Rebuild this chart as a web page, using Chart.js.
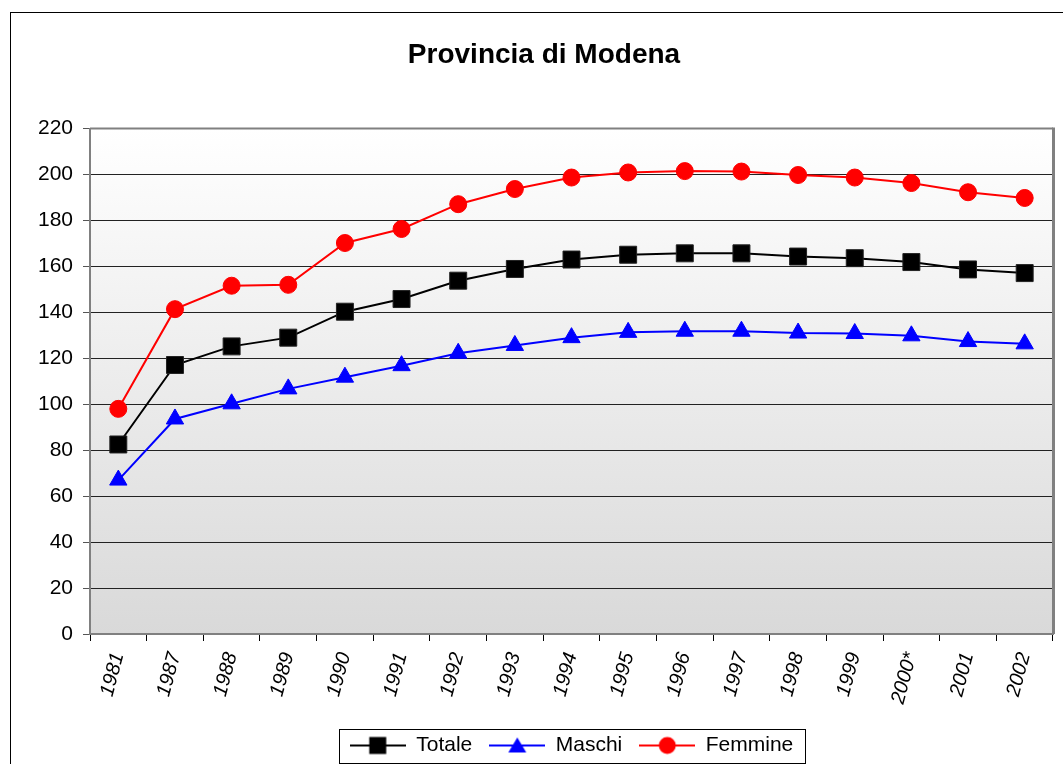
<!DOCTYPE html>
<html>
<head>
<meta charset="utf-8">
<script src="https://cdn.jsdelivr.net/npm/chart.js@4.4.0/dist/chart.umd.min.js"></script>
<style>
  html, body { margin: 0; padding: 0; background: #fff; overflow: hidden; }
  #grafico { display: block; }
</style>
</head>
<body>
<canvas id="grafico" width="1088" height="764"></canvas>
<script>
const anni = ['1981', '1987', '1988', '1989', '1990', '1991', '1992', '1993', '1994',
              '1995', '1996', '1997', '1998', '1999', '2000*', '2001', '2002'];
const totale  = [82.5, 117.1, 125.2, 129.0, 140.3, 145.8, 153.8, 158.9, 163.0,
                 165.1, 165.7, 165.7, 164.3, 163.6, 161.9, 158.7, 157.1];
const maschi  = [67.0, 93.6, 100.2, 106.7, 111.8, 116.8, 122.2, 125.6, 129.0,
                 131.3, 131.8, 131.8, 131.0, 130.8, 129.8, 127.3, 126.3];
const femmine = [98.0, 141.4, 151.6, 152.0, 170.2, 176.3, 187.1, 193.7, 198.7,
                 200.9, 201.5, 201.3, 199.8, 198.7, 196.3, 192.3, 189.8];
const yMin = 0, yMax = 220, yPasso = 20;

const FONT = "'Liberation Sans', Arial, sans-serif";

// campione della legenda: linea con marcatore al centro
function campione(colore, stile) {
    const c = document.createElement('canvas');
    c.width = 56; c.height = 20;
    const g = c.getContext('2d');
    g.strokeStyle = colore; g.lineWidth = 2;
    g.beginPath(); g.moveTo(0, 10); g.lineTo(56, 10); g.stroke();
    g.fillStyle = colore;
    g.beginPath();
    if (stile === 'rect') {
        g.rect(28 - 8.5, 10 - 8.5, 17, 17);
    } else if (stile === 'triangle') {
        g.moveTo(28, 2); g.lineTo(37, 17); g.lineTo(19, 17); g.closePath();
    } else {
        g.arc(28, 10, 8.5, 0, Math.PI * 2);
    }
    g.fill();
    return c;
}
const campioni = [campione('#000000', 'rect'), campione('#0000ff', 'triangle'), campione('#ff0000', 'circle')];

const sfondo = {
    id: 'sfondo',
    beforeDraw(chart) {
        const ctx = chart.ctx, a = chart.chartArea;
        ctx.save();
        ctx.fillStyle = '#ffffff';
        ctx.fillRect(0, 0, chart.width, chart.height);
        // cornice esterna
        ctx.strokeStyle = '#000000';
        ctx.lineWidth = 1;
        ctx.strokeRect(10.5, 12.5, 1067, 800);
        // area del grafico sfumata
        const grad = ctx.createLinearGradient(0, a.top, 0, a.bottom);
        grad.addColorStop(0, '#ffffff');
        grad.addColorStop(1, '#d9d9d9');
        ctx.fillStyle = grad;
        ctx.fillRect(a.left, a.top, a.right - a.left, a.bottom - a.top);
        ctx.restore();
    },
    beforeDatasetsDraw(chart) {
        const ctx = chart.ctx, a = chart.chartArea;
        ctx.save();
        ctx.strokeStyle = '#808080';
        ctx.lineWidth = 2;
        ctx.beginPath();
        ctx.moveTo(a.left, a.top);
        ctx.lineTo(a.right, a.top);
        ctx.stroke();
        ctx.lineWidth = 3;
        ctx.beginPath();
        ctx.moveTo(a.right + 0.5, a.top - 1);
        ctx.lineTo(a.right + 0.5, a.bottom);
        ctx.stroke();
        ctx.restore();
    },
    afterDraw(chart) {
        const hb = chart.legend.legendHitBoxes;
        if (!hb || !hb.length) return;
        const ctx = chart.ctx;
        const ultimo = hb[hb.length - 1];
        const sx = hb[0].left - 11, dx = ultimo.left + ultimo.width + 11;
        const cy = hb[0].top + hb[0].height / 2;
        ctx.save();
        ctx.strokeStyle = '#000000';
        ctx.lineWidth = 1;
        ctx.strokeRect(Math.round(sx) + 0.5, Math.round(cy - 17) + 0.5, Math.round(dx - sx), 34);
        ctx.restore();
    }
};

new Chart(document.getElementById('grafico'), {
    type: 'line',
    data: {
        labels: anni,
        datasets: [
            {
                label: 'Totale', data: totale,
                borderColor: '#000000', backgroundColor: '#000000', borderWidth: 2,
                pointStyle: 'rect', pointRadius: 12, pointBorderColor: '#222222', pointBorderWidth: 1
            },
            {
                label: 'Maschi', data: maschi,
                borderColor: '#0000ff', backgroundColor: '#0000ff', borderWidth: 2,
                pointStyle: 'triangle', pointRadius: 10, pointBorderWidth: 1
            },
            {
                label: 'Femmine', data: femmine,
                borderColor: '#ff0000', backgroundColor: '#ff0000', borderWidth: 2,
                pointStyle: 'circle', pointRadius: 8.5, pointBorderWidth: 1
            }
        ]
    },
    options: {
        responsive: false,
        animation: false,
        layout: { padding: { left: 0, right: 0, top: 0, bottom: -2 } },
        plugins: {
            title: {
                display: true,
                text: 'Provincia di Modena',
                color: '#000000',
                font: { family: FONT, size: 28, weight: 'bold' },
                padding: { top: 38, bottom: 57 }
            },
            legend: {
                position: 'bottom',
                fullSize: false,
                labels: {
                    color: '#000000',
                    font: { family: FONT, size: 21 },
                    usePointStyle: true,
                    pointStyleWidth: 56,
                    padding: 17,
                    generateLabels(chart) {
                        const items = Chart.defaults.plugins.legend.labels.generateLabels(chart);
                        items.forEach((it, i) => { it.pointStyle = campioni[i]; });
                        return items;
                    }
                }
            },
            tooltip: { enabled: false }
        },
        scales: {
            x: {
                offset: true,
                afterFit(s) { s.height = 84; },
                border: { color: '#808080', width: 2 },
                grid: { drawOnChartArea: false, drawTicks: true, tickLength: 7, offset: true, tickColor: '#000000' },
                ticks: {
                    color: '#000000',
                    font: { family: FONT, size: 20, style: 'italic' },
                    minRotation: 75, maxRotation: 75,
                    autoSkip: false,
                    padding: 9
                }
            },
            y: {
                min: yMin, max: yMax,
                afterFit(s) { s.width = 90; },
                border: { color: '#808080', width: 2 },
                grid: { color: '#222222', lineWidth: 1, tickLength: 7, tickColor: '#555555' },
                ticks: {
                    stepSize: yPasso,
                    color: '#000000',
                    font: { family: FONT, size: 21 },
                    padding: 10
                }
            },
            // spazio a destra dell'area del grafico
            margine: {
                type: 'linear',
                position: 'right',
                afterFit(s) { s.width = 35; },
                grid: { display: false },
                border: { display: false },
                ticks: { display: false }
            }
        }
    },
    plugins: [sfondo]
});
</script>
</body>
</html>
